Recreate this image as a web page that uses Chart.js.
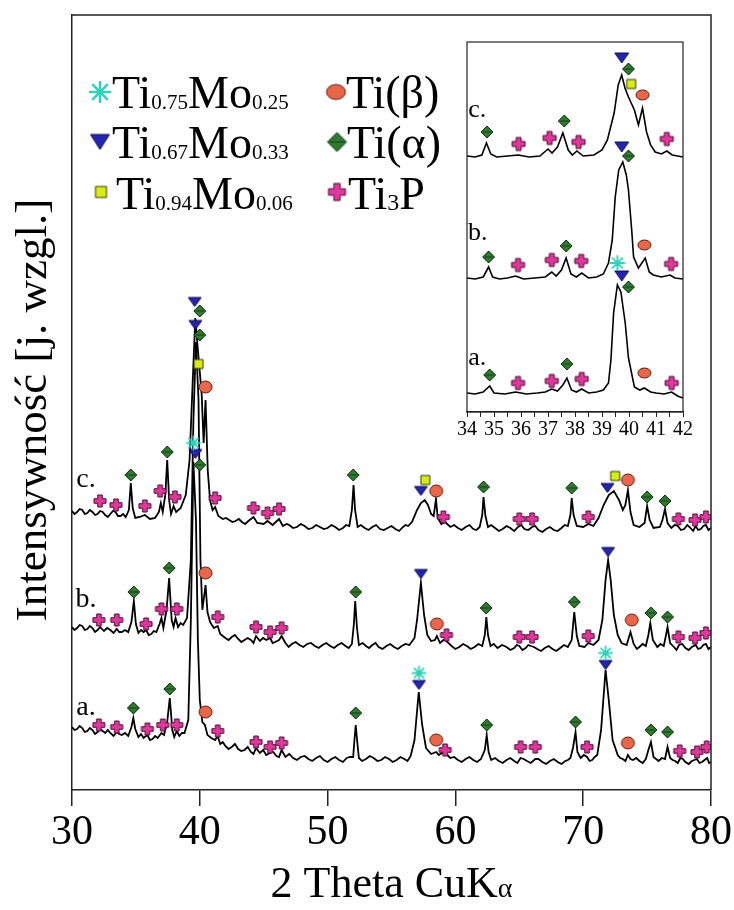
<!DOCTYPE html>
<html>
<head>
<meta charset="utf-8">
<script src="https://cdn.jsdelivr.net/npm/chart.js@4.4.1/dist/chart.umd.min.js"></script>
<style>
  body { margin: 0; background: #fff; }
  #wrap { position: relative; width: 734px; height: 910px; }
  #inset { position: absolute; left: 446px; top: 32px; }
</style>
</head>
<body>
<div id="wrap">
  <canvas id="xrd" width="734" height="910"></canvas>
  <canvas id="inset" width="250" height="420"></canvas>
</div>
<script>
// [2theta, intensity], traces stacked (c top, a bottom)
const traceC = [
  [30.0,279],[30.2,276],[30.4,278],[30.6,281],[30.8,280],[31.0,276],[31.2,277],[31.4,280],[31.6,278],[31.8,275],
  [32.0,276],[32.2,279],[32.4,278],[32.6,275],[32.8,273],[33.0,276],[33.2,279],[33.4,278],[33.6,274],[33.8,274],
  [34.0,276],[34.2,273],[34.45,280],[34.6,307],[34.75,282],[34.95,272],[35.3,273],[35.7,275],[36.1,271],[36.5,272],
  [36.8,278],[36.95,287],[37.1,278],[37.3,295],[37.45,330],[37.6,290],[37.75,276],[37.95,284],[38.15,278],[38.5,282],
  [38.9,295],[39.2,330],[39.45,410],[39.65,472],[39.85,440],[40.0,418],[40.15,395],[40.3,347],[40.45,390],[40.62,320],
  [40.8,290],[41.0,280],[41.2,283],[41.45,274],[41.8,271],[42.05,272],[42.3,270],[42.55,268],[42.8,269],[43.05,271],
  [43.3,268],[43.55,266],[43.8,269],[44.2,273],[44.5,267],[45.0,266],[45.3,269],[45.7,265],[46.2,271],[46.5,264],
  [46.8,266],[47.0,265],[47.3,262],[47.6,263],[47.9,266],[48.2,264],[48.5,261],[48.8,262],[49.1,265],[49.4,263],
  [49.7,261],[50.0,262],[50.3,265],[50.6,263],[50.9,260],[51.2,262],[51.45,265],[51.7,264],[51.9,280],[52.03,305],
  [52.15,280],[52.35,263],[52.6,265],[52.9,262],[53.2,260],[53.5,263],[53.8,265],[54.1,261],[54.4,260],[54.7,262],
  [55.0,264],[55.3,261],[55.6,259],[55.9,263],[56.1,265],[56.3,264],[56.6,268],[57.0,280],[57.3,287],[57.6,290],
  [57.85,285],[58.1,276],[58.3,274],[58.48,291],[58.62,272],[58.9,266],[59.2,268],[59.6,263],[59.9,265],[60.2,262],
  [60.5,260],[60.8,263],[61.1,265],[61.4,261],[61.65,260],[61.9,263],[62.1,275],[62.2,293],[62.35,274],[62.55,263],
  [62.8,265],[63.1,262],[63.4,259],[63.7,261],[64.0,264],[64.3,262],[64.6,259],[64.9,263],[65.15,265],[65.4,261],
  [65.7,260],[66.0,263],[66.25,264],[66.5,260],[66.8,258],[67.1,261],[67.4,263],[67.7,260],[68.0,259],[68.3,262],
  [68.55,265],[68.8,264],[69.0,275],[69.1,292],[69.25,275],[69.5,264],[70.0,263],[70.4,266],[70.8,264],[71.2,272],
  [71.6,285],[72.0,295],[72.4,299],[72.8,290],[73.1,280],[73.3,285],[73.5,300],[73.7,278],[73.95,265],[74.4,263],
  [74.8,267],[75.0,284],[75.2,270],[75.5,262],[76.0,263],[76.2,270],[76.4,281],[76.6,267],[76.9,262],[77.15,265],
  [77.4,264],[77.65,260],[77.9,261],[78.15,265],[78.4,262],[78.6,259],[78.8,264],[79.0,260],[79.2,261],[79.4,264],
  [79.6,265],[79.8,260],[80.0,262]
];
const traceB = [
  [30.0,163],[30.2,160],[30.4,162],[30.6,165],[30.8,164],[31.0,160],[31.2,161],[31.4,164],[31.6,162],[31.8,158],
  [32.0,160],[32.2,163],[32.35,161],[32.5,159],[32.75,162],[33.0,160],[33.25,157],[33.5,161],[33.7,158],[33.9,158],
  [34.15,160],[34.4,158],[34.65,168],[34.84,189],[35.0,166],[35.2,157],[35.4,160],[35.6,158],[35.8,160],[36.0,155],
  [36.2,156],[36.4,159],[36.6,158],[36.85,166],[37.0,172],[37.15,162],[37.4,180],[37.6,212],[37.8,170],[37.95,163],
  [38.1,172],[38.3,163],[38.5,167],[38.7,165],[39.0,172],[39.3,230],[39.5,370],[39.7,448],[39.9,390],[40.05,230],
  [40.2,180],[40.3,190],[40.45,205],[40.6,178],[40.8,168],[41.1,162],[41.4,164],[41.6,156],[41.8,154],[42.0,152],
  [42.25,150],[42.5,153],[42.75,155],[43.0,151],[43.25,148],[43.5,150],[43.75,152],[44.0,150],[44.2,147],[44.4,154],
  [44.7,149],[44.95,152],[45.2,150],[45.5,152],[45.7,147],[45.9,148],[46.2,150],[46.4,154],[46.7,147],[46.95,143],
  [47.2,146],[47.5,148],[47.8,145],[48.1,143],[48.4,146],[48.7,147],[49.0,144],[49.3,142],[49.6,145],[49.9,147],
  [50.2,144],[50.5,142],[50.8,145],[51.1,147],[51.4,144],[51.65,142],[51.9,146],[52.05,165],[52.16,189],[52.3,162],
  [52.45,145],[52.75,147],[53.0,144],[53.25,142],[53.5,145],[53.75,147],[54.0,143],[54.3,141],[54.6,144],[54.9,146],
  [55.2,143],[55.5,141],[55.8,144],[56.1,146],[56.4,145],[56.8,152],[57.0,170],[57.3,207],[57.55,175],[57.8,155],
  [58.1,149],[58.4,150],[58.55,154],[58.8,147],[59.05,150],[59.3,149],[59.7,144],[60.0,141],[60.3,143],[60.6,146],
  [60.9,144],[61.2,141],[61.5,143],[61.8,146],[62.1,144],[62.3,155],[62.42,173],[62.55,155],[62.75,144],[63.0,146],
  [63.3,142],[63.65,145],[64.0,143],[64.3,140],[64.6,142],[64.8,145],[65.0,144],[65.25,140],[65.5,142],[65.7,145],
  [65.9,144],[66.15,143],[66.4,141],[66.7,139],[67.0,142],[67.3,144],[67.6,141],[67.9,139],[68.2,142],[68.5,145],
  [68.8,143],[69.1,150],[69.3,178],[69.5,154],[69.7,144],[70.1,143],[70.4,147],[70.8,145],[71.2,150],[71.5,170],
  [71.75,210],[71.95,230],[72.15,210],[72.4,175],[72.7,155],[73.0,147],[73.4,145],[73.7,158],[73.95,146],[74.2,141],
  [74.4,143],[74.65,146],[74.9,144],[75.1,155],[75.25,167],[75.45,150],[75.8,143],[76.05,146],[76.3,144],[76.45,153],
  [76.6,163],[76.8,147],[77.1,143],[77.3,140],[77.5,145],[77.75,146],[78.0,142],[78.25,140],[78.5,143],[78.8,145],
  [79.0,141],[79.2,142],[79.4,145],[79.6,146],[79.8,141],[80.0,143]
];
const traceA = [
  [30.0,63],[30.2,60],[30.4,61],[30.6,64],[30.8,62],[31.0,58],[31.2,59],[31.4,62],[31.6,60],[31.8,56],
  [32.0,58],[32.2,61],[32.4,59],[32.6,57],[32.8,60],[33.0,57],[33.25,54],[33.5,58],[33.7,56],[33.9,55],
  [34.15,57],[34.4,54],[34.65,63],[34.8,72],[34.95,61],[35.2,53],[35.4,56],[35.6,52],[35.9,55],[36.1,50],
  [36.3,51],[36.5,54],[36.7,52],[37.0,57],[37.2,55],[37.45,68],[37.65,92],[37.85,60],[38.0,53],[38.2,59],
  [38.4,54],[38.6,57],[38.8,57],[39.1,70],[39.3,170],[39.5,328],[39.7,270],[39.85,150],[40.0,90],[40.2,68],
  [40.4,65],[40.6,55],[40.9,52],[41.2,50],[41.4,54],[41.6,46],[41.8,48],[42.0,44],[42.25,41],[42.5,43],
  [42.75,46],[43.0,41],[43.25,39],[43.5,40],[43.75,43],[44.0,38],[44.2,36],[44.4,42],[44.7,37],[44.95,40],
  [45.2,35],[45.5,37],[45.75,38],[46.0,34],[46.2,33],[46.4,40],[46.7,33],[47.0,36],[47.3,32],[47.6,30],
  [47.9,33],[48.2,34],[48.5,31],[48.8,29],[49.1,32],[49.4,34],[49.7,30],[50.0,28],[50.3,31],[50.6,33],
  [50.9,30],[51.2,28],[51.5,32],[51.75,33],[52.0,33],[52.1,50],[52.2,65],[52.32,48],[52.45,32],[52.7,29],
  [53.0,31],[53.3,34],[53.6,32],[53.9,29],[54.2,30],[54.5,33],[54.8,31],[55.1,28],[55.4,30],[55.7,33],
  [56.0,31],[56.25,29],[56.5,34],[56.8,50],[57.13,98],[57.4,65],[57.7,42],[58.1,36],[58.5,38],[58.7,35],
  [58.95,37],[59.2,37],[59.6,32],[59.9,33],[60.2,30],[60.5,28],[60.8,31],[61.1,33],[61.4,30],[61.7,28],
  [62.0,31],[62.3,40],[62.45,55],[62.6,38],[62.8,30],[63.1,32],[63.4,29],[63.7,27],[64.0,30],[64.3,32],
  [64.6,29],[64.85,27],[65.1,32],[65.35,31],[65.6,29],[65.9,27],[66.25,31],[66.5,31],[66.8,28],[67.1,26],
  [67.4,29],[67.7,31],[68.0,28],[68.3,26],[68.6,29],[68.8,30],[69.0,32],[69.2,42],[69.4,58],[69.55,38],
  [69.8,32],[70.05,35],[70.3,33],[70.5,29],[70.7,30],[70.9,33],[71.1,35],[71.4,60],[71.75,120],[72.0,90],
  [72.3,50],[72.7,35],[72.9,32],[73.1,31],[73.3,29],[73.5,35],[73.7,31],[73.9,30],[74.15,32],[74.4,29],
  [74.65,27],[74.9,31],[75.1,40],[75.3,48],[75.5,33],[75.7,31],[75.9,29],[76.15,32],[76.4,31],[76.6,43],
  [76.8,32],[77.0,30],[77.2,29],[77.4,27],[77.6,32],[77.8,31],[78.0,28],[78.25,26],[78.5,29],[78.7,30],
  [78.9,31],[79.1,27],[79.3,28],[79.5,30],[79.7,32],[79.85,27],[80.0,28]
];

// phase markers on the main plot: [2theta, height]
const tiAlpha = [
  [34.6,315],[37.45,338],[40.0,479],[52.0,315],[62.2,303],[69.1,302],[75.0,293],[76.4,289],
  [34.84,198],[37.6,222],[40.0,455],[52.2,198],[62.4,182],[69.3,188],[75.3,177],[76.6,173],
  [34.8,82],[37.65,101],[40.0,325],[52.2,77],[62.45,65],[69.4,68],[75.3,60],[76.6,58]
];
const tiBeta = [[40.45,403],[58.5,299],[73.5,310],[40.45,217],[58.55,166],[73.8,170],[40.45,78],[58.5,50],[73.5,47]];
const mo33 = [[39.6,488],[57.3,299],[71.9,302],[39.65,465],[57.3,216],[71.95,238],[39.65,336],[57.15,105],[71.75,125]];
const mo06 = [[39.9,426],[57.65,310],[72.5,314]];
const mo25 = [[39.5,347],[57.15,117],[71.75,137]];
const ti3p = [
  [32.19,289],[33.44,285],[35.7,284],[36.9,299],[38.05,293],[41.2,292],[44.2,282],[45.3,277],[46.2,281],
  [59.06,273],[65.0,271],[66.0,271],[70.4,273],[77.45,271],[78.75,270],[79.6,273],
  [32.1,170],[33.5,170],[35.8,166],[37.0,181],[38.2,181],[41.4,173],[44.4,163],[45.5,158],[46.4,162],
  [59.3,155],[65.0,153],[66.0,153],[70.4,154],[77.45,153],[78.75,152],[79.6,157],
  [32.1,65],[33.5,63],[35.9,61],[37.1,65],[38.2,65],[41.4,59],[44.4,48],[45.5,43],[46.4,47],
  [59.2,40],[65.1,43],[66.25,43],[70.3,43],[77.55,39],[78.9,38],[79.66,43]
];

// inset 34-42 deg
const insetC = [
  [34.0,256],[34.3,255],[34.55,257],[34.72,269],[34.88,258],[35.1,255],[35.5,256],[35.9,257],[36.3,255],[36.7,256],
  [37.0,263],[37.15,259],[37.35,265],[37.55,279],[37.75,262],[37.9,257],[38.07,261],[38.3,256],[38.7,257],[39.0,262],
  [39.2,272],[39.45,299],[39.6,327],[39.73,337],[39.85,324],[39.98,315],[40.2,302],[40.35,287],[40.5,304],[40.65,280],
  [40.8,267],[40.97,260],[41.2,258],[41.4,261],[41.6,257],[41.8,256],[42.0,255]
];
const insetB = [
  [34.0,134],[34.3,133],[34.6,135],[34.8,145],[34.95,135],[35.2,133],[35.5,134],[35.8,136],[36.1,133],[36.5,134],
  [36.9,135],[37.14,140],[37.3,136],[37.5,142],[37.67,154],[37.85,138],[38.05,135],[38.25,139],[38.5,134],[38.8,135],
  [39.05,138],[39.24,149],[39.38,172],[39.49,215],[39.62,242],[39.77,250],[39.9,237],[39.98,222],[40.1,182],[40.17,155],
  [40.35,144],[40.6,154],[40.75,140],[40.9,137],[41.2,135],[41.52,137],[41.7,134],[42.0,133]
];
const insetA = [
  [34.0,19],[34.3,18],[34.6,20],[34.84,26],[35.0,19],[35.4,18],[35.8,20],[36.2,18],[36.6,19],[36.9,20],
  [37.14,23],[37.35,21],[37.55,27],[37.7,34],[37.87,22],[38.05,20],[38.25,23],[38.5,19],[38.8,20],[39.05,22],
  [39.24,29],[39.33,52],[39.43,99],[39.57,127],[39.7,120],[39.86,89],[39.98,54],[40.2,25],[40.4,22],[40.57,24],
  [40.8,20],[41.0,19],[41.3,18],[41.58,20],[41.8,16],[42.0,14]
];
const insetAlpha = [[34.74,280],[37.6,291],[39.98,343],[34.8,155],[37.67,166],[39.98,256],[34.84,37],[37.7,48],[39.98,125]];
const insetBeta = [[40.5,317],[40.57,167],[40.57,39]];
const insetMo33 = [[39.73,354],[39.73,265],[39.73,136]];
const insetMo06 = [[40.08,328]];
const insetMo25 = [[39.57,149]];
const insetTi3p = [
  [35.91,268],[37.06,274],[38.13,270],[41.4,273],
  [35.89,147],[37.14,152],[38.23,151],[41.56,148],
  [35.89,29],[37.14,31],[38.25,33],[41.58,29]
];

const traceNames = ['c.', 'b.', 'a.'];
const traceLabelAt = [[31.1, 310], [31.1, 190], [31.1, 82]];
const insetLabelAt = [[34.38, 302], [34.4, 179], [34.38, 54]];

const FONT = '"Liberation Serif", "Times New Roman", serif';

function xy(list) {
    return list.map(p => ({x: p[0], y: p[1]})).sort((p, q) => p.x - q.x);
}

// small bitmaps used as point styles
function makeMarker(kind, w, h) {
    const cv = document.createElement('canvas');
    cv.width = Math.ceil(w + 4);
    cv.height = Math.ceil(h + 4);
    const g = cv.getContext('2d');
    const cx = cv.width / 2, cy = cv.height / 2;
    g.lineWidth = 1;
    g.lineJoin = 'round';
    g.beginPath();
    if (kind === 'tri') {
        g.moveTo(cx - w / 2, cy - h / 2);
        g.lineTo(cx + w / 2, cy - h / 2);
        g.lineTo(cx, cy + h / 2);
        g.closePath();
        g.fillStyle = '#2323b5';
        g.strokeStyle = '#0c0c45';
        g.fill();
        g.stroke();
    } else if (kind === 'dia') {
        g.moveTo(cx, cy - h / 2);
        g.lineTo(cx + w / 2, cy);
        g.lineTo(cx, cy + h / 2);
        g.lineTo(cx - w / 2, cy);
        g.closePath();
        g.fillStyle = '#2e7b30';
        g.strokeStyle = '#0f2a10';
        g.fill();
        g.stroke();
        g.beginPath();
        g.moveTo(cx - w / 2 + 2, cy);
        g.lineTo(cx + w / 2 - 2, cy);
        g.lineWidth = 0.8;
        g.stroke();
    } else if (kind === 'sq') {
        g.rect(cx - w / 2, cy - h / 2, w, h);
        g.fillStyle = '#d6ee17';
        g.strokeStyle = '#3a3a0d';
        g.fill();
        g.stroke();
    } else if (kind === 'circ') {
        g.ellipse(cx, cy, w / 2, h / 2, 0, 0, Math.PI * 2);
        g.fillStyle = '#e9664b';
        g.strokeStyle = '#5a1e10';
        g.fill();
        g.stroke();
    } else if (kind === 'plus') {
        const t = w * 0.19;
        g.moveTo(cx - t, cy - h / 2);
        g.lineTo(cx + t, cy - h / 2);
        g.lineTo(cx + t, cy - t);
        g.lineTo(cx + w / 2, cy - t);
        g.lineTo(cx + w / 2, cy + t);
        g.lineTo(cx + t, cy + t);
        g.lineTo(cx + t, cy + h / 2);
        g.lineTo(cx - t, cy + h / 2);
        g.lineTo(cx - t, cy + t);
        g.lineTo(cx - w / 2, cy + t);
        g.lineTo(cx - w / 2, cy - t);
        g.lineTo(cx - t, cy - t);
        g.closePath();
        g.fillStyle = '#e0379c';
        g.strokeStyle = '#4c0f32';
        g.fill();
        g.stroke();
    } else if (kind === 'star') {
        g.strokeStyle = '#2fd2bb';
        g.lineWidth = Math.max(1.8, w / 8);
        g.lineCap = 'round';
        for (let k = 0; k < 4; k++) {
            const a = k * Math.PI / 4;
            g.moveTo(cx - Math.cos(a) * w / 2, cy - Math.sin(a) * h / 2);
            g.lineTo(cx + Math.cos(a) * w / 2, cy + Math.sin(a) * h / 2);
        }
        g.stroke();
    }
    return cv;
}

const mainMarks = {
    star: makeMarker('star', 13, 13), tri: makeMarker('tri', 13, 9), sq: makeMarker('sq', 9, 9),
    circ: makeMarker('circ', 13, 12), dia: makeMarker('dia', 12, 12), plus: makeMarker('plus', 12, 12)
};
const insetMarks = {
    star: makeMarker('star', 14, 14), tri: makeMarker('tri', 14, 10), sq: makeMarker('sq', 9, 9),
    circ: makeMarker('circ', 13, 10), dia: makeMarker('dia', 12, 12), plus: makeMarker('plus', 13, 13)
};
const legendMarks = {
    star: makeMarker('star', 20, 20), tri: makeMarker('tri', 19, 15), sq: makeMarker('sq', 11, 11),
    circ: makeMarker('circ', 19, 15), dia: makeMarker('dia', 19, 19), plus: makeMarker('plus', 17, 17)
};

function traceSet(list, width) {
    return {data: xy(list), showLine: true, borderColor: '#000', borderWidth: width,
        pointRadius: 0, tension: 0, order: 2};
}
function markSet(list, img) {
    return {data: xy(list), showLine: false, pointStyle: img, pointRadius: 6, order: 1};
}

function richText(ctx, parts, x, base) {
    ctx.textAlign = 'left';
    ctx.textBaseline = 'alphabetic';
    parts.forEach(([txt, size, dy]) => {
        ctx.font = `${size}px ${FONT}`;
        ctx.fillText(txt, x, base + (dy || 0));
        x += ctx.measureText(txt).width;
    });
}

const legendRows = [
    {mark: 'star', mx: 100, my: 92, tx: 112, base: 108, parts: [['Ti', 46], ['0.75', 21, 1], ['Mo', 46], ['0.25', 21, 1]]},
    {mark: 'tri', mx: 100, my: 142, tx: 112, base: 158, parts: [['Ti', 46], ['0.67', 21, 1], ['Mo', 46], ['0.33', 21, 1]]},
    {mark: 'sq', mx: 101, my: 192, tx: 116, base: 209, parts: [['Ti', 46], ['0.94', 21, 1], ['Mo', 46], ['0.06', 21, 1]]},
    {mark: 'circ', mx: 336, my: 92, tx: 346, base: 108, parts: [['Ti(β)', 46]]},
    {mark: 'dia', mx: 337, my: 142, tx: 347, base: 158, parts: [['Ti(α)', 46]]},
    {mark: 'plus', mx: 337, my: 192, tx: 348, base: 209, parts: [['Ti', 46], ['3', 24, 1], ['P', 46]]}
];

const mainDecor = {
    id: 'mainDecor',
    afterDraw(chart) {
        const {ctx, chartArea: a, scales: {x, y}} = chart;
        ctx.save();
        ctx.strokeStyle = '#222';
        ctx.lineWidth = 1.5;
        ctx.beginPath();
        ctx.moveTo(a.left, a.top);
        ctx.lineTo(a.right, a.top);
        ctx.lineTo(a.right, a.bottom);
        ctx.stroke();

        ctx.fillStyle = '#000';
        ctx.font = `28px ${FONT}`;
        ctx.textAlign = 'center';
        ctx.textBaseline = 'middle';
        traceNames.forEach((n, i) => {
            ctx.fillText(n, x.getPixelForValue(traceLabelAt[i][0]), y.getPixelForValue(traceLabelAt[i][1]));
        });

        // axis titles
        const xParts = [['2 Theta CuK', 44], ['α', 28]];
        let total = 0;
        xParts.forEach(([t, s]) => { ctx.font = `${s}px ${FONT}`; total += ctx.measureText(t).width; });
        richText(ctx, xParts, (a.left + a.right) / 2 - total / 2, 897);

        ctx.save();
        ctx.translate(46, 410);
        ctx.rotate(-Math.PI / 2);
        ctx.font = `45px ${FONT}`;
        ctx.textAlign = 'center';
        ctx.textBaseline = 'alphabetic';
        ctx.fillText('Intensywność [j. wzgl.]', 0, 0);
        ctx.restore();

        // legend
        legendRows.forEach(r => {
            const img = legendMarks[r.mark];
            ctx.drawImage(img, r.mx - img.width / 2, r.my - img.height / 2);
            richText(ctx, r.parts, r.tx, r.base);
        });
        ctx.restore();
    }
};

new Chart(document.getElementById('xrd'), {
    type: 'scatter',
    data: {
        datasets: [
            markSet(mo25, mainMarks.star), markSet(mo33, mainMarks.tri), markSet(mo06, mainMarks.sq),
            markSet(tiBeta, mainMarks.circ), markSet(tiAlpha, mainMarks.dia), markSet(ti3p, mainMarks.plus),
            traceSet(traceC, 1.8), traceSet(traceB, 1.8), traceSet(traceA, 1.8)
        ]
    },
    options: {
        responsive: false,
        animation: false,
        devicePixelRatio: 1,
        layout: {padding: {top: 15, right: 22, left: 0, bottom: 0}},
        plugins: {legend: {display: false}, tooltip: {enabled: false}},
        scales: {
            x: {
                type: 'linear', min: 30, max: 80,
                ticks: {stepSize: 10, maxRotation: 0, color: '#000', padding: 2, font: {family: FONT, size: 42}},
                grid: {display: true, drawOnChartArea: false, drawTicks: true, tickLength: 16, tickColor: '#222', lineWidth: 1.5},
                border: {display: true, color: '#222', width: 1.5},
                afterFit: s => { s.height = 120; }
            },
            y: {
                min: 0, max: 775,
                ticks: {display: false},
                grid: {display: false},
                border: {display: true, color: '#222', width: 1.5},
                afterFit: s => { s.width = 72; }
            }
        }
    },
    plugins: [mainDecor]
});

const insetDecor = {
    id: 'insetDecor',
    afterDraw(chart) {
        const {ctx, chartArea: a, scales: {x, y}} = chart;
        ctx.save();
        ctx.strokeStyle = '#222';
        ctx.lineWidth = 1.2;
        ctx.strokeRect(a.left, a.top, a.right - a.left, a.bottom - a.top);
        ctx.fillStyle = '#000';
        ctx.font = `26px ${FONT}`;
        ctx.textAlign = 'center';
        ctx.textBaseline = 'middle';
        traceNames.forEach((n, i) => {
            ctx.fillText(n, x.getPixelForValue(insetLabelAt[i][0]), y.getPixelForValue(insetLabelAt[i][1]));
        });
        ctx.restore();
    }
};

new Chart(document.getElementById('inset'), {
    type: 'scatter',
    data: {
        datasets: [
            markSet(insetMo25, insetMarks.star), markSet(insetMo33, insetMarks.tri), markSet(insetMo06, insetMarks.sq),
            markSet(insetBeta, insetMarks.circ), markSet(insetAlpha, insetMarks.dia), markSet(insetTi3p, insetMarks.plus),
            traceSet(insetC, 1.6), traceSet(insetB, 1.6), traceSet(insetA, 1.6)
        ]
    },
    options: {
        responsive: false,
        animation: false,
        devicePixelRatio: 1,
        layout: {padding: {top: 10, right: 13, left: 21, bottom: 0}},
        plugins: {legend: {display: false}, tooltip: {enabled: false}},
        scales: {
            x: {
                type: 'linear', min: 34, max: 42,
                ticks: {
                    stepSize: 0.5, autoSkip: false, maxRotation: 0, color: '#000', padding: 1,
                    font: {family: FONT, size: 20},
                    callback: v => Number.isInteger(v) ? String(v) : ''
                },
                grid: {display: true, drawOnChartArea: false, drawTicks: true, tickLength: 5, tickColor: '#222', lineWidth: 1},
                border: {display: true, color: '#222', width: 1.2},
                afterFit: s => { s.height = 40; }
            },
            y: {display: false, min: 0, max: 370}
        }
    },
    plugins: [insetDecor]
});
</script>
</body>
</html>
